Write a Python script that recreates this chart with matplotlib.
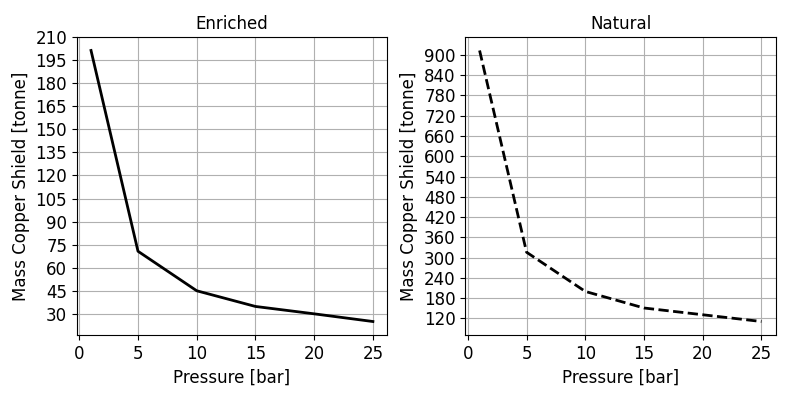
import numpy as np
import matplotlib
matplotlib.use("Agg")
import matplotlib.pyplot as plt

pressure = [1, 5, 10, 15, 20, 25]
mass_enriched = [201.3, 70.7, 45.0, 34.8, 30.0, 25.0]
mass_natural = [913, 316, 200, 151, 131, 111]

enriched_ticks = np.arange(30, 211, 15)
natural_ticks = np.arange(120, 901, 60)

plt.rcParams['font.size'] = 12

fig = plt.figure(figsize=(7.93, 3.97), dpi=100)
ax1 = fig.add_axes([0.097, 0.156, 0.391, 0.751])
ax2 = fig.add_axes([0.587, 0.156, 0.391, 0.751])

# enriched
ax1.plot(pressure, mass_enriched, c='black', lw=2)
ax1.set_yticks(enriched_ticks)
ax1.set_title("Enriched", fontsize=12)
ax1.set_xlabel("Pressure [bar]")
ax1.set_ylabel("Mass Copper Shield [tonne]")
ax1.set_xticks([0, 5, 10, 15, 20, 25])
ax1.grid(True)

# natural
ax2.plot(pressure, mass_natural, c='black', lw=2, ls='--')
ax2.set_yticks(natural_ticks)
ax2.set_title("Natural", fontsize=12)
ax2.set_xlabel("Pressure [bar]")
ax2.set_ylabel("Mass Copper Shield [tonne]")
ax2.set_xticks([0, 5, 10, 15, 20, 25])
ax2.grid(True)

fig.savefig("out.png", dpi=100)
